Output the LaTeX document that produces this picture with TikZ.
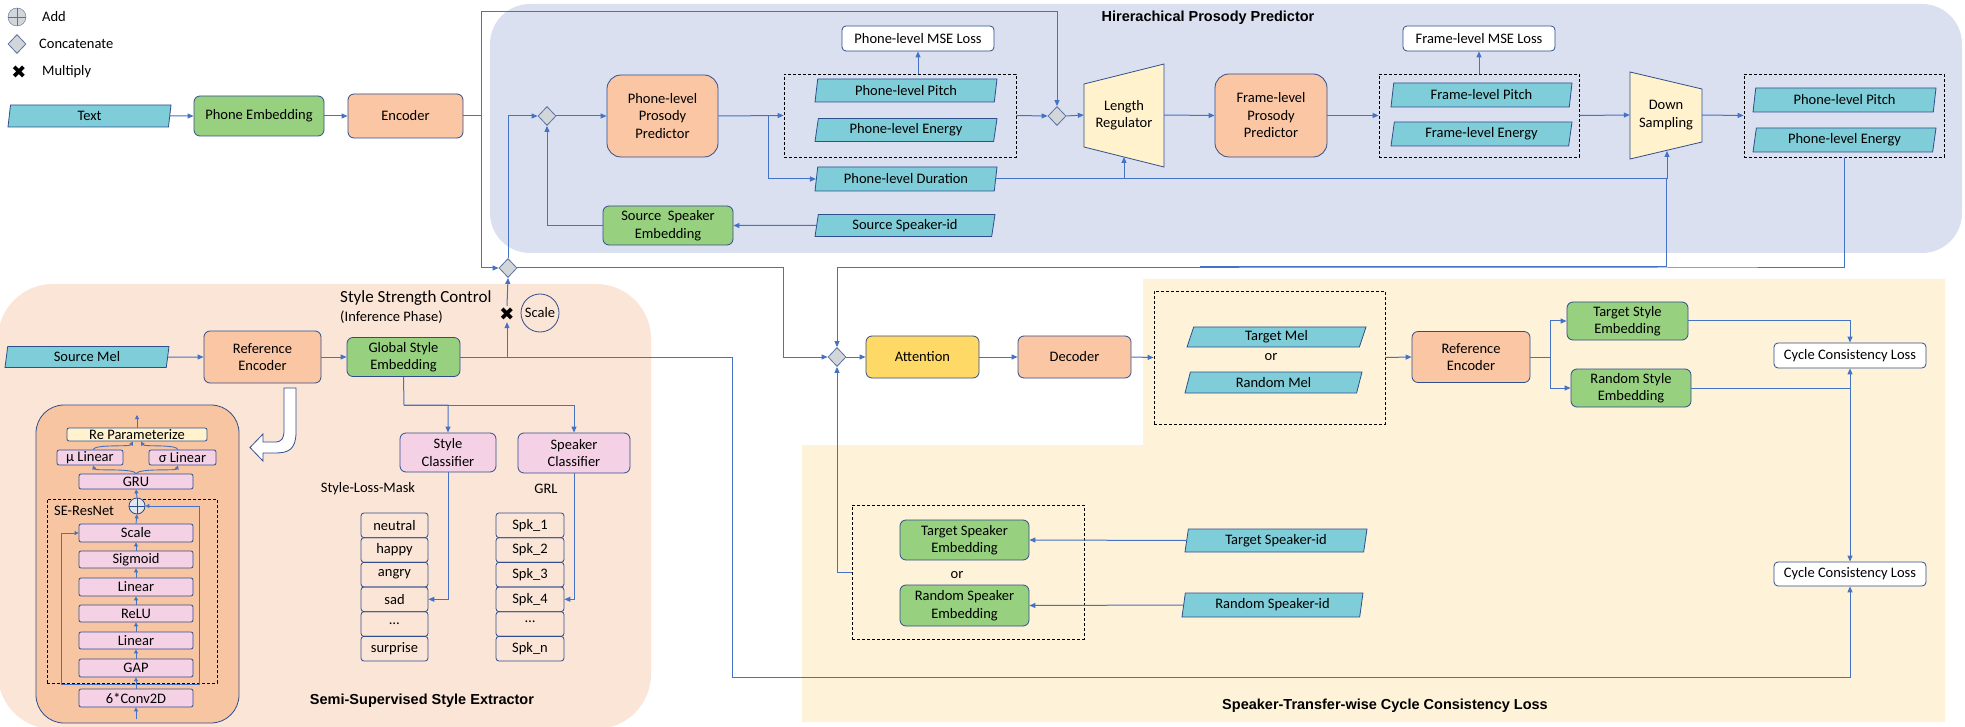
\documentclass[tikz,border=0pt]{standalone}
\usepackage{fontspec}
\setmainfont{Carlito}
\newfontfamily\hfont{Liberation Sans}
\newfontfamily\djv{DejaVu Sans}
\usetikzlibrary{arrows.meta,shapes.geometric,calc}
\definecolor{lnc}{HTML}{4472C4}
\definecolor{bdc}{HTML}{2F4E8C}
\definecolor{cyc}{HTML}{7ECDD8}
\definecolor{grc}{HTML}{97D07F}
\definecolor{orc}{HTML}{FAC6A3}
\definecolor{gdc}{HTML}{FFD966}
\definecolor{pkc}{HTML}{F5D1E6}
\definecolor{ylc}{HTML}{FFF2CC}
\definecolor{bluereg}{HTML}{DAE0F0}
\definecolor{peachreg}{HTML}{FBE5D7}
\definecolor{innerc}{HTML}{F8C5A2}
\definecolor{yelreg}{HTML}{FEF2D8}
\definecolor{dmc}{HTML}{D3D6D9}
\newcommand\fm{\fontsize{14.5}{17.5}\selectfont}
\newcommand\ftitle{\hfont\bfseries\fontsize{14.5}{17}\selectfont}
\begin{document}
\begin{tikzpicture}[x=1pt,y=-1pt,
  sz/.style 2 args={minimum width=#1pt, minimum height=#2pt},
  box/.style={draw=bdc, line width=0.8pt, rounded corners=6pt, align=center, inner sep=0pt, font=\fm},
  gbox/.style={box, fill=grc},
  obox/.style={box, fill=orc},
  pbox/.style={box, fill=pkc, rounded corners=3pt},
  wbox/.style={box, fill=white, rounded corners=4pt},
  lbox/.style={box, rounded corners=3pt},
  para/.style={trapezium, trapezium left angle=75, trapezium right angle=105, trapezium stretches body=true, draw=bdc, line width=0.8pt, fill=cyc, inner sep=0pt, font=\fm},
  dia/.style={diamond, draw=bdc!80, fill=dmc, line width=0.8pt, minimum width=18pt, minimum height=19pt, inner sep=0pt},
  dbox/.style={draw=black, line width=0.8pt, dash pattern=on 3pt off 2pt, inner sep=0pt},
  trap/.style={draw=bdc, line width=0.8pt, fill=ylc},
  ln/.style={draw=lnc, line width=1pt},
  arr/.style={draw=lnc, line width=1pt, -{Triangle[length=6pt,width=5pt]}},
  sarr/.style={draw=lnc, line width=0.9pt, -{Triangle[length=4pt,width=4pt]}},
  lbl/.style={font=\fm, inner sep=0pt},
  xmark/.style={font=\djv\fontsize{18}{18}\selectfont, inner sep=0pt, minimum height=16pt}
]
\useasboundingbox (0,0) rectangle (1965,727);
\fill[white] (0,0) rectangle (1965,727);
% regions
\fill[bluereg, rounded corners=40pt] (490,4) rectangle (1962,253);
\fill[peachreg, rounded corners=55pt] (-2,284) rectangle (651,729);
\fill[yelreg] (1143,279) -- (1945,279) -- (1945,722) -- (802,722) -- (802,445) -- (1143,445) -- cycle;

% legend
\node[circle, draw=bdc!80, fill=dmc, minimum size=18pt, inner sep=0pt] (legadd) at (17,17) {};
\draw[bdc!80, line width=0.8pt] (legadd.north) -- (legadd.south) (legadd.west) -- (legadd.east);
\node[lbl, anchor=west] (legaddt) at (42,17) {Add};
\node[dia] (legcat) at (17,44) {};
\node[lbl, anchor=west] (legcatt) at (39,44) {Concatenate};
\node[xmark] (legmul) at (19,72) {✖};
\node[lbl, anchor=west] (legmult) at (42,72) {Multiply};

% titles
\node[font=\ftitle] (t1) at (1208,18) {Hirerachical Prosody Predictor};
\node[font=\ftitle] (t2) at (422,701) {Semi-Supervised Style Extractor};
\node[font=\ftitle] (t3) at (1385,706) {Speaker-Transfer-wise Cycle Consistency Loss};

% top row
\node[para, sz={163}{22}] (text) at (89.5,116) {Text};
\node[gbox, sz={130}{40}] (phemb) at (259,116) {Phone Embedding};
\node[obox, sz={115}{44}] (enc) at (405.5,116) {Encoder};
\node[dia] (d1) at (547,116) {};
\node[obox, sz={111}{82}, rounded corners=14pt] (ppp) at (662.5,116) {Phone-level\\Prosody\\Predictor};
\node[dbox, sz={232}{83}] (dbox1) at (900,115.5) {};
\node[para, sz={182}{23}] (ppitch1) at (906,90.5) {Phone-level Pitch};
\node[para, sz={182}{23}] (penergy1) at (906,130) {Phone-level Energy};
\node[wbox, sz={152}{25}] (pmse) at (918,38.5) {Phone-level MSE Loss};
\node[para, sz={182}{24}] (pdur) at (906,179) {Phone-level Duration};
\node[gbox, sz={130}{39}] (sse) at (668,225.5) {Source\ \ Speaker\\Embedding};
\node[para, sz={180}{22}] (ssid) at (905,225.5) {Source Speaker-id};
\node[dia] (d2) at (1057,116) {};
\draw[trap] (1084,84) -- (1164,64) -- (1164,167) -- (1084,147) -- cycle;
\node[lbl, align=center, sz={80}{60}] (lr) at (1124,115) {Length\\Regulator};
\node[obox, sz={112}{83}, rounded corners=14pt] (fpp) at (1271,115.5) {Frame-level\\Prosody\\Predictor};
\node[dbox, sz={200}{83}] (dbox2) at (1479,115.5) {};
\node[para, sz={181}{24}] (fpitch) at (1481.5,95) {Frame-level Pitch};
\node[para, sz={181}{24}] (fenergy) at (1481.5,134) {Frame-level Energy};
\node[wbox, sz={152}{25}] (fmse) at (1479,38.5) {Frame-level MSE Loss};
\draw[trap] (1630,72) -- (1702,89) -- (1702,142) -- (1630,159) -- cycle;
\node[lbl, align=center, sz={72}{60}] (ds) at (1666,115) {Down\\Sampling};
\node[dbox, sz={200}{83}] (dbox3) at (1844,115.5) {};
\node[para, sz={183}{24}] (ppitch3) at (1844.5,100) {Phone-level Pitch};
\node[para, sz={183}{24}] (penergy3) at (1844.5,140) {Phone-level Energy};
\coordinate (lrb) at (1124,157);
\coordinate (dsb) at (1667,151);

% style extractor
\node[lbl, anchor=west, font=\fontsize{17}{19}\selectfont] (ssc) at (340,298) {Style Strength Control};
\node[lbl, anchor=west] (infp) at (340,317) {(Inference Phase)};
\node[xmark] (mul) at (507,314) {✖};
\node[circle, draw=bdc, line width=0.8pt, minimum size=38pt, inner sep=0pt, font=\fm] (scl) at (540,313) {Scale};
\node[dia] (d3) at (508,268) {};
\node[para, sz={164}{21}] (smel) at (87,357) {Source Mel};
\node[obox, sz={117}{52}] (re1) at (262.5,357) {Reference\\Encoder};
\node[gbox, sz={113}{39}] (gse) at (403.5,357) {Global Style\\Embedding};
\node[pbox, sz={96}{39}, rounded corners=6pt] (stcls) at (448,452.5) {Style\\Classifier};
\node[pbox, sz={112}{40}, rounded corners=6pt] (spcls) at (574,453) {Speaker\\Classifier};
\node[lbl] (slm) at (368,489) {Style-Loss-Mask};
\node[lbl] (grl) at (546,489) {GRL};
\node[lbox, sz={67}{24.7}] (e1) at (394.5,525.3) {neutral};
\node[lbox, sz={67}{24.7}] (e2) at (394.5,550) {happy};
\node[lbox, sz={67}{24.7}] (e3) at (394.5,574.7) {angry};
\node[lbox, sz={67}{24.7}] (e4) at (394.5,599.3) {sad};
\node[lbox, sz={67}{24.7}] (e5) at (394.5,624) {\ldots};
\node[lbox, sz={67}{24.7}] (e6) at (394.5,648.7) {surprise};
\node[lbox, sz={68}{24.7}] (s1) at (530,525.3) {Spk\_1};
\node[lbox, sz={68}{24.7}] (s2) at (530,550) {Spk\_2};
\node[lbox, sz={68}{24.7}] (s3) at (530,574.7) {Spk\_3};
\node[lbox, sz={68}{24.7}] (s4) at (530,599.3) {Spk\_4};
\node[lbox, sz={68}{24.7}] (s5) at (530,624) {\raisebox{5pt}{\ldots}};
\node[lbox, sz={68}{24.7}] (s6) at (530,648.7) {Spk\_n};
% hollow arrow
\draw[bdc, line width=0.8pt, fill=white] (284,388) -- (296,388) -- (296,432) .. controls (296,450) and (288,453) .. (275,453) -- (263,453) -- (263,461) -- (250,447.5) -- (263,434) -- (263,442) -- (275,442) .. controls (282,442) and (284,438) .. (284,430) -- cycle;
% inner encoder box
\draw[bdc, line width=0.8pt, fill=innerc, rounded corners=28pt] (36,405) rectangle (239,723);
\node[dbox, sz={170}{184}] (seres) at (132,591) {};
\node[lbl, anchor=west] (sert) at (54,511) {SE-ResNet};
\node[box, fill=ylc, rounded corners=2pt, sz={140}{13}] (repar) at (137,434.5) {Re Parameterize};
\node[pbox, rounded corners=2pt, sz={66}{15}] (mulin) at (90,457.5) {µ Linear};
\node[pbox, rounded corners=2pt, sz={67}{15}] (sigin) at (182.5,457.5) {σ Linear};
\node[pbox, rounded corners=2pt, sz={114}{15}] (gru) at (136,481.5) {GRU};
\node[circle, draw=bdc, fill=dmc!80!lnc!40, line width=0.8pt, minimum size=16pt, inner sep=0pt] (add) at (137,506) {};
\draw[bdc, line width=0.8pt] (add.north) -- (add.south) (add.west) -- (add.east);
\node[pbox, rounded corners=2pt, sz={114}{18}] (scale) at (136,533) {Scale};
\node[pbox, rounded corners=2pt, sz={114}{17}] (sigm) at (136,559.5) {Sigmoid};
\node[pbox, rounded corners=2pt, sz={114}{18}] (lin1) at (136,587) {Linear};
\node[pbox, rounded corners=2pt, sz={114}{17}] (relu) at (136,613.5) {ReLU};
\node[pbox, rounded corners=2pt, sz={114}{17}] (lin2) at (136,640.5) {Linear};
\node[pbox, rounded corners=2pt, sz={114}{18}] (gap) at (136,668) {GAP};
\node[pbox, rounded corners=2pt, sz={114}{18}] (conv) at (136,698) {6*Conv2D};
\coordinate (cin) at (136,719);
\coordinate (rout) at (137,415);
\coordinate (skip) at (136,684);

% middle / right
\node[dia] (d4) at (837,357) {};
\node[box, fill=gdc, sz={113}{42}] (att) at (922.5,357) {Attention};
\node[obox, sz={113}{42}] (dec) at (1074.5,357) {Decoder};
\node[dbox, sz={231}{133}] (dbox4) at (1269.5,357.5) {};
\node[para, trapezium left angle=62, trapezium right angle=118, sz={179}{20}] (tmel) at (1276.5,337) {Target Mel};
\node[lbl] (or1) at (1271,357) {or};
\node[para, trapezium left angle=62, trapezium right angle=118, sz={177}{21}] (rmel) at (1273.5,382.5) {Random Mel};
\node[obox, sz={118}{51}] (re2) at (1471,357) {Reference\\Encoder};
\node[gbox, sz={121}{38}] (tse) at (1627.5,321) {Target Style\\Embedding};
\node[gbox, sz={120}{38}] (rse) at (1631,388) {Random Style\\Embedding};
\node[wbox, sz={152}{25}] (ccl1) at (1850,355.5) {Cycle Consistency Loss};
\node[dbox, sz={232}{134}] (dbox5) at (968,572) {};
\node[gbox, sz={129}{40}] (tspe) at (964.5,540) {Target Speaker\\Embedding};
\node[lbl] (or2) at (957,575) {or};
\node[gbox, sz={129}{41}] (rspe) at (964.5,605.5) {Random Speaker\\Embedding};
\node[para, sz={182}{23}] (tsid) at (1276,540.5) {Target Speaker-id};
\node[para, sz={181}{24}] (rsid) at (1272.5,605) {Random Speaker-id};
\node[wbox, sz={152}{24}] (ccl2) at (1850,574) {Cycle Consistency Loss};

% ---- connectors ----
\draw[arr] (text) -- (phemb);
\draw[arr] (phemb) -- (enc);
\coordinate (jA) at (481,116);
\draw[ln] (enc.east) -- (jA);
\draw[arr] (jA) -- (jA |- 0,12) -| (d2.north);
\draw[arr] (jA) |- (d3.west);
\draw[arr] (d3.north) |- (d1.west);
\draw[arr] (d1) -- (ppp);
\draw[arr] (ppp.east) -- (dbox1.west);
\coordinate (jP) at (768,116);
\draw[arr] (jP) |- (pdur.west);
\draw[arr] (pmse.south |- dbox1.north) -- (pmse.south);
\draw[arr] (dbox1.east) -- (d2.west);
\draw[arr] (d2.east) -- (lr.west);
\draw[ln] (pdur.east) -- (dsb |- pdur.east);
\draw[arr] (dsb |- pdur.east) -- (dsb);
\draw[arr] (lrb |- pdur.east) -- (lrb);
\draw[arr] (lr.east) -- (fpp.west);
\draw[arr] (fpp.east) -- (dbox2.west);
\draw[arr] (dbox2.north) -- (fmse.south);
\draw[arr] (dbox2.east) -- (ds.west);
\draw[arr] (ds.east) -- (dbox3.west);
\coordinate (jC) at (1666,268);
\draw[arr] (dbox3.south) |- (jC) -| (d4.north);
\draw[ln] (jC |- pdur.east) -- ([yshift=1pt]jC) -- ([yshift=1pt]jC -| 1200,0);
\draw[arr] (ssid.west) -- (sse.east);
\draw[arr] (sse.west) -| (d1.south);
\coordinate (jB) at (783,268);
\draw[arr] (d3.east) -- (jB) |- (d4.west);
\coordinate (jD) at (732,677);
\draw[arr] (gse.east) -| (jD) -| (ccl2.south);
\coordinate (jM) at (507,357);
\draw[arr] (jM) -- (mul.south);
\draw[arr] (mul.north) -- (d3.south);
\draw[arr] (smel) -- (re1);
\draw[arr] (re1) -- (gse);
\coordinate (jE) at (404,405);
\draw[arr] (gse.south) -- (jE) -| (stcls.north);
\draw[arr] (jE) -| (spcls.north);
\draw[arr] (stcls.south) |- (e4.east);
\draw[arr] (spcls.south) |- (s4.east);
\draw[arr] (d4) -- (att);
\draw[arr] (att) -- (dec);
\draw[arr] (dec.east) -- (dbox4.west);
\draw[arr] (dbox4.east) -- (re2.west);
\coordinate (jR) at (1550,357);
\draw[ln] (re2.east) -- (jR);
\draw[arr] (jR) |- (tse.west);
\draw[arr] (jR) |- (rse.west);
\draw[arr] (tse.east) -| (ccl1.north);
\draw[arr] (rse.east) -| (ccl1.south);
\draw[arr] (ccl1.south |- rse.east) -- (ccl2.north);
\draw[arr] (tsid.west) -- (tspe.east);
\draw[arr] (rsid.west) -- (rspe.east);
\draw[arr] (dbox5.west) -| (d4.south);
% inner box connectors
\draw[sarr] (cin) -- (conv.south);
\draw[sarr] (conv.north) -- (gap.south);
\draw[sarr] (gap.north) -- (lin2.south);
\draw[sarr] (lin2.north) -- (relu.south);
\draw[sarr] (relu.north) -- (lin1.south);
\draw[sarr] (lin1.north) -- (sigm.south);
\draw[sarr] (sigm.north) -- (scale.south);
\draw[sarr] (scale.north) -- (add.south);
\draw[sarr] (add.north) -- (gru.south);
\draw[sarr] (skip) -| (61,533) -- (scale.west);
\draw[sarr] (skip) -| (199,506) -- (add.east);
\draw[sarr] (gru.north) .. controls (134,468) and (95,471) .. ([xshift=3pt]mulin.south);
\draw[sarr] (gru.north) .. controls (140,468) and (176,471) .. ([xshift=-4.5pt]sigin.south);
\draw[sarr] ([xshift=3pt]mulin.north) .. controls (95,444) and (130,447) .. ([xshift=-4pt]repar.south);
\draw[sarr] ([xshift=-4.5pt]sigin.north) .. controls (176,444) and (144,447) .. ([xshift=4pt]repar.south);
\draw[sarr] (repar.north) -- (rout);
\end{tikzpicture}
\end{document}
